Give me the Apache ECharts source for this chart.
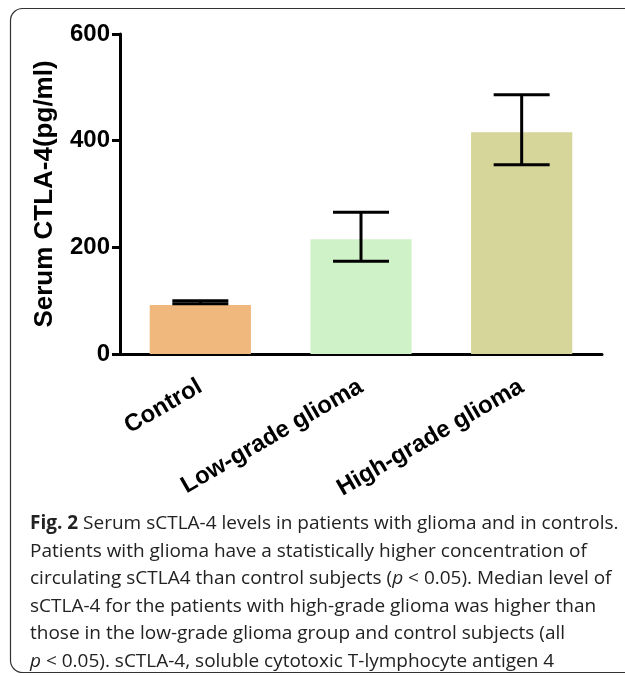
<!DOCTYPE html>
<html>
<head>
<meta charset="utf-8">
<script src="https://cdn.jsdelivr.net/npm/echarts@6/dist/echarts.min.js"></script>
<style>
  html, body { margin: 0; padding: 0; background: #fff; }
  #main { width: 625px; height: 676px; }
</style>
</head>
<body>
<div id="main"></div>
<script>
const categories = ["Control", "Low-grade glioma", "High-grade glioma"];
const values = [92, 215, 416];
const errLow = [94, 174, 355];
const errHigh = [100, 266, 486];
const barColors = ["#F0B87C", "#CFF2C8", "#D6D59A"];
const yTicks = [0, 200, 400, 600];

const captionLines = [
  "{b|Fig. 2} Serum sCTLA-4 levels in patients with glioma and in controls.",
  "Patients with glioma have a statistically higher concentration of",
  "circulating sCTLA4 than control subjects ({i|p} < 0.05). Median level of",
  "sCTLA-4 for the patients with high-grade glioma was higher than",
  "those in the low-grade glioma group and control subjects (all",
  "{i|p} < 0.05). sCTLA-4, soluble cytotoxic T-lymphocyte antigen 4"
];

function errorBarItem(params, api) {
  const x = api.value(0);
  const lo = api.coord([x, api.value(1)]);
  const hi = api.coord([x, api.value(2)]);
  const half = 28;
  const style = { stroke: "#000", lineWidth: 3 };
  return {
    type: "group",
    children: [
      { type: "line", shape: { x1: hi[0], y1: hi[1], x2: lo[0], y2: lo[1] }, style },
      { type: "line", shape: { x1: hi[0] - half, y1: hi[1], x2: hi[0] + half, y2: hi[1] }, style },
      { type: "line", shape: { x1: lo[0] - half, y1: lo[1], x2: lo[0] + half, y2: lo[1] }, style }
    ]
  };
}

addEventListener("load", () => {
  const chart = echarts.init(document.getElementById("main"));
  const font = "Arial, 'Liberation Sans', sans-serif";
  const captionFont = "'Open Sans', sans-serif";
  const capSize = 19;

  const captionText = captionLines.map((line, i) => ({
    type: "text",
    left: 30,
    top: 514 + i * 27.6,
    style: {
      text: line,
      font: capSize + "px " + captionFont,
      fill: "#222",
      rich: {
        b: { fontFamily: captionFont, fontSize: capSize, fontWeight: "bold", fill: "#222" },
        i: { fontFamily: captionFont, fontSize: capSize, fontStyle: "italic", fill: "#222" }
      }
    }
  }));

  chart.setOption({
    animation: false,
    grid: { left: 120, right: 23, top: 34, bottom: 322, containLabel: false },
    xAxis: {
      type: "category",
      data: categories,
      axisLine: { lineStyle: { color: "#000", width: 3 } },
      axisTick: { alignWithLabel: true, length: 8, lineStyle: { color: "#000", width: 3 } },
      axisLabel: {
        rotate: 30,
        margin: 31,
        color: "#000",
        fontFamily: font,
        fontWeight: "bold",
        fontSize: 24
      }
    },
    yAxis: {
      type: "value",
      min: 0,
      max: 600,
      interval: 200,
      name: "Serum CTLA-4(pg/ml)",
      nameLocation: "middle",
      nameGap: 62,
      nameTextStyle: { color: "#000", fontFamily: font, fontWeight: "bold", fontSize: 26 },
      splitLine: { show: false },
      axisLine: { show: true, lineStyle: { color: "#000", width: 3 } },
      axisTick: { show: true, length: 8, lineStyle: { color: "#000", width: 3 } },
      axisLabel: {
        margin: 10,
        color: "#000",
        fontFamily: font,
        fontWeight: "bold",
        fontSize: 24,
        formatter: (v) => (yTicks.includes(v) ? String(v) : "")
      }
    },
    series: [
      {
        type: "bar",
        barWidth: "63%",
        data: values.map((v, i) => ({ value: v, itemStyle: { color: barColors[i] } })),
        z: 1
      },
      {
        type: "custom",
        renderItem: errorBarItem,
        data: categories.map((c, i) => [i, errLow[i], errHigh[i]]),
        z: 3
      }
    ],
    graphic: [
      {
        type: "rect",
        shape: { x: 10.5, y: 8.5, width: 700, height: 664, r: 12 },
        style: { fill: "none", stroke: "#333", lineWidth: 1.2 },
        silent: true
      },
      ...captionText
    ]
  });
});
</script>
</body>
</html>
